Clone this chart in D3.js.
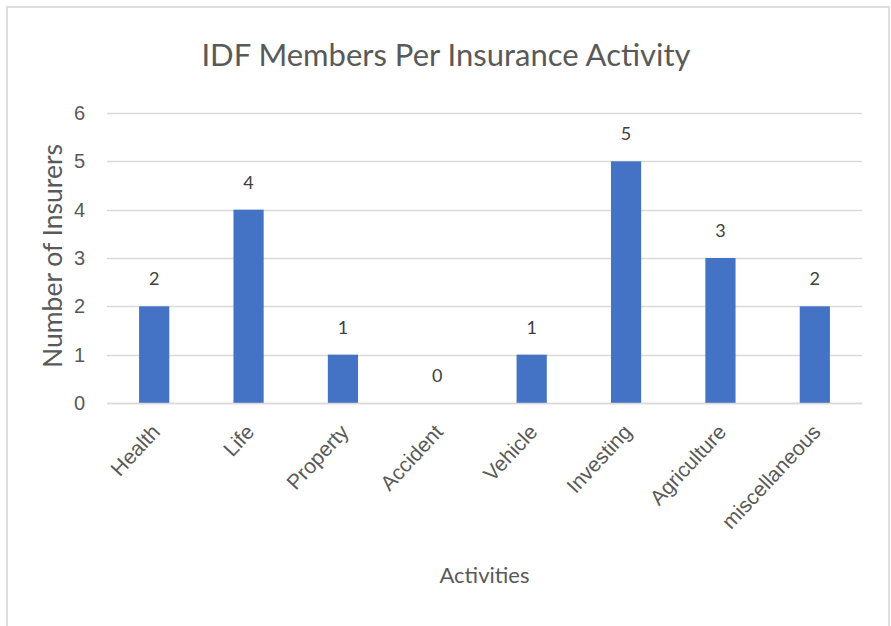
<!DOCTYPE html>
<html>
<head>
<meta charset="utf-8">
<script src="https://cdn.jsdelivr.net/npm/d3@7"></script>
<style>
  body { margin: 0; background: #fff; }
  svg { font-family: Lato, "Open Sans", sans-serif; display: block; }
</style>
</head>
<body>
<svg id="chart"></svg>
<script>
// IDF members per insurance activity - column chart
const activities = ['Health', 'Life', 'Property', 'Accident', 'Vehicle', 'Investing', 'Agriculture', 'miscellaneous'];
const insurers = [2, 4, 1, 0, 1, 5, 3, 2];
const yTicks = [0, 1, 2, 3, 4, 5, 6];

const W = 891, H = 626;
const margin = { top: 113, right: 29, bottom: 223, left: 107 };
const width = W - margin.left - margin.right;
const height = H - margin.top - margin.bottom;

const textColor = '#595959';
const gridColor = '#d9d9d9';

const root = d3.select('#chart')
  .attr('width', W)
  .attr('height', H);

// outer frame (bottom edge runs off the picture)
root.append('rect')
  .attr('x', 7).attr('y', 7)
  .attr('width', 882).attr('height', 640)
  .attr('fill', '#fff')
  .attr('stroke', '#dedede')
  .attr('stroke-width', 2);

const svg = root.append('g')
  .attr('transform', `translate(${margin.left},${margin.top})`);

// Scales
const x = d3.scaleBand()
  .domain(activities)
  .range([0, width])
  .paddingInner(0.68)
  .paddingOuter(0.34);

const y = d3.scaleLinear()
  .domain([0, 6])
  .range([height, 0]);

// gridlines
svg.append('g')
  .selectAll('line')
  .data(yTicks)
  .join('line')
    .attr('x1', 0)
    .attr('x2', width)
    .attr('y1', d => Math.round(y(d)) + 0.5)
    .attr('y2', d => Math.round(y(d)) + 0.5)
    .attr('stroke', gridColor)
    .attr('stroke-width', 1.5);

// y axis labels
const yAxis = svg.append('g')
  .call(d3.axisLeft(y).tickValues(yTicks).tickFormat(d3.format('d')).tickSize(0).tickPadding(22));
yAxis.select('.domain').remove();
yAxis.selectAll('text')
  .attr('fill', textColor)
  .style('font-size', '20px');

// bars
svg.selectAll('.bar')
  .data(activities)
  .join('rect')
    .attr('class', 'bar')
    .attr('x', d => x(d))
    .attr('y', (d, i) => y(insurers[i]))
    .attr('width', x.bandwidth())
    .attr('height', (d, i) => height - y(insurers[i]))
    .attr('fill', '#4472c4');

// value labels
svg.selectAll('.val')
  .data(activities)
  .join('text')
    .attr('class', 'val')
    .attr('x', d => x(d) + x.bandwidth() / 2)
    .attr('y', (d, i) => y(insurers[i]) - 21)
    .attr('text-anchor', 'middle')
    .attr('fill', '#404040')
    .style('font-size', '18px')
    .text((d, i) => insurers[i]);

// x axis
const xAxis = svg.append('g')
  .attr('transform', `translate(0,${height})`)
  .call(d3.axisBottom(x).tickSize(0).tickPadding(0));
xAxis.select('.domain')
  .attr('stroke', gridColor)
  .attr('stroke-width', 1.5);
xAxis.selectAll('text')
  .attr('fill', textColor)
  .style('font-size', '21px')
  .attr('text-anchor', 'end')
  .attr('dy', 0)
  .attr('transform', 'translate(7,30) rotate(-47)');

// axis titles
svg.append('text')
  .attr('x', width / 2)
  .attr('y', height + 180)
  .attr('text-anchor', 'middle')
  .attr('fill', textColor)
  .style('font-size', '22px')
  .text('Activities');

svg.append('text')
  .attr('transform', 'rotate(-90)')
  .attr('x', -(y(3)) + 2)
  .attr('y', -45)
  .attr('text-anchor', 'middle')
  .attr('fill', textColor)
  .style('font-size', '26.5px')
  .text('Number of Insurers');

// chart title
root.append('text')
  .attr('x', 446)
  .attr('y', 66)
  .attr('text-anchor', 'middle')
  .attr('fill', textColor)
  .style('font-size', '31px')
  .text('IDF Members Per Insurance Activity');
</script>
</body>
</html>
